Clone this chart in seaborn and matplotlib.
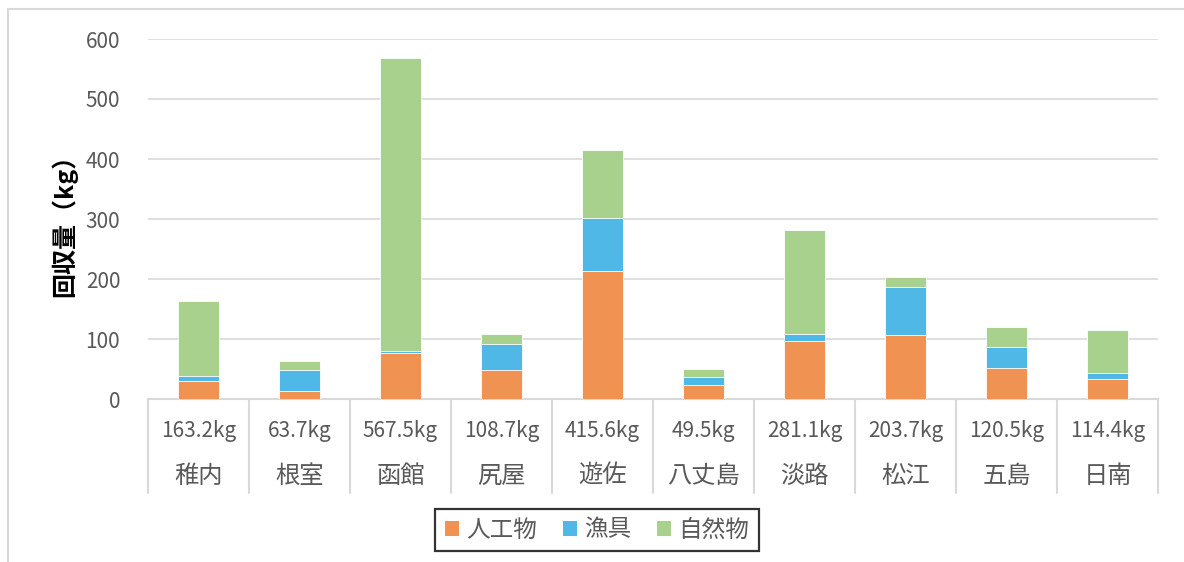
import seaborn as sns
import matplotlib.pyplot as plt
import pandas as pd
from matplotlib.patches import Patch, Rectangle
import matplotlib.transforms as mtransforms

# Data
places = ['稚内', '根室', '函館', '尻屋', '遊佐', '八丈島', '淡路', '松江', '五島', '日南']
totals = [163.2, 63.7, 567.5, 108.7, 415.6, 49.5, 281.1, 203.7, 120.5, 114.4]
artificial = [30, 14, 76, 49, 214, 23, 96, 106, 52, 34]
fishing_gear = [8, 35, 4, 42, 88, 13, 13, 80, 34, 10]
natural = [t - a - f for t, a, f in zip(totals, artificial, fishing_gear)]

series_names = ['人工物', '漁具', '自然物']
colors = ['#F09352', '#4FB8E7', '#A9D18E']

sns.set_style('white')
plt.rcParams['font.family'] = ['Noto Sans CJK JP', 'DejaVu Sans']

df = pd.DataFrame({
    'place': places,
    'artificial': artificial,
    'gear': fishing_gear,
    'natural': natural,
})
df['cum1'] = df['artificial']
df['cum2'] = df['artificial'] + df['gear']
df['cum3'] = df['cum2'] + df['natural']

fig = plt.figure(figsize=(11.84, 5.62), dpi=100)
ax = fig.add_axes([148 / 1184, 1 - 399 / 562, (1158 - 148) / 1184, 360 / 562])

# stacked bars: draw cumulative totals from top down
for col, c in zip(['cum3', 'cum2', 'cum1'], colors[::-1]):
    sns.barplot(data=df, x='place', y=col, color=c, width=0.4,
                saturation=1, edgecolor='white', linewidth=0.6, ax=ax, zorder=3)

ax.set_xlim(-0.5, len(places) - 0.5)
ax.set_ylim(0, 600)
ax.set_yticks(range(0, 700, 100))
ax.yaxis.grid(True, color='#d9d9d9', linewidth=1.2, zorder=0)
ax.set_axisbelow(True)
for s in ['top', 'right', 'left']:
    ax.spines[s].set_visible(False)
ax.spines['bottom'].set_color('#d9d9d9')
ax.spines['bottom'].set_linewidth(1.5)
ax.tick_params(axis='y', length=0, pad=20, labelsize=15, labelcolor='#595959')
ax.set_xticks([])
ax.set_xlabel('')
ax.set_ylabel('回収量（kg）', fontsize=18, fontweight='bold', labelpad=6, color='black')

# category table under the axis
trans = mtransforms.blended_transform_factory(ax.transData, ax.transAxes)
for i in range(len(places) + 1):
    ax.plot([i - 0.5, i - 0.5], [0, -0.262], transform=trans, color='#d9d9d9',
            linewidth=1.5, clip_on=False)
for i, (p, t) in enumerate(zip(places, totals)):
    ax.text(i, -0.089, f'{t}kg', transform=trans, ha='center', va='center',
            fontsize=15, color='#595959')
    ax.text(i, -0.214, p, transform=trans, ha='center', va='center',
            fontsize=17.5, color='#595959')

handles = [Patch(facecolor=c, edgecolor='none', label=n) for c, n in zip(colors, series_names)]
leg = fig.legend(handles=handles, loc='center', bbox_to_anchor=(597 / 1184, 1 - 530 / 562),
                 ncol=3, frameon=True, fancybox=False, fontsize=17,
                 handlelength=0.6, handleheight=0.6, handletextpad=0.3,
                 columnspacing=1.1, borderpad=0.4, labelcolor='#595959')
leg.get_frame().set_edgecolor('black')
leg.get_frame().set_linewidth(1.6)

# outer chart border
fig.add_artist(Rectangle((8 / 1184, -0.05), 1.1, 1 - 9 / 562 + 0.05,
                         transform=fig.transFigure, fill=False,
                         edgecolor='#d9d9d9', linewidth=1.5))

fig.savefig('out.png', dpi=100)
